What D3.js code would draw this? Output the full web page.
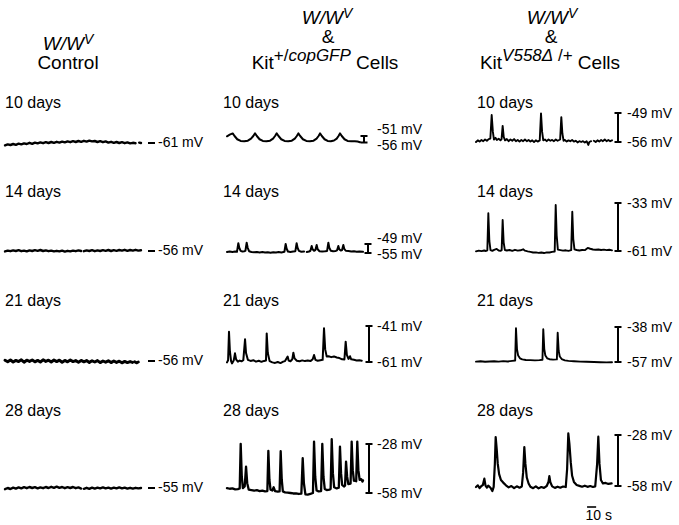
<!DOCTYPE html>
<html><head><meta charset="utf-8">
<script src="https://cdn.jsdelivr.net/npm/d3@7"></script>
<style>
body{margin:0;background:#fff}
svg text{font-family:"Liberation Sans",Arial,Helvetica,sans-serif;fill:#000}
</style>
</head><body>
<svg id="chart" width="679" height="525"></svg>
<script>
// ---------------- DATA (time in s, potential in mV) ----------------
const dayLabels = ["10 days", "14 days", "21 days", "28 days"];
const controlLevels = [-61, -56, -56, -55];
const copGFPBars = [[-56, -51], [-55, -49], [-61, -41], [-58, -28]];
const v558Bars = [[-56, -49], [-61, -33], [-57, -38], [-58, -28]];
const timeBar = [122.5, 132.5];   // 10 s calibration bar
const timeBarLabel = "10 s";

// W/W^V control
const ctrl10 = [[0,-62.2],[3,-61.7],[6,-62.0],[9,-61.5],[12,-61.9],[15,-61.3],[18,-61.7],[21,-61.2],[24,-61.5],[27,-60.9],[30,-61.4],[33,-60.8],[36,-61.2],[39,-60.7],[42,-61.1],[45,-60.6],[48,-61.0],[51,-60.5],[54,-60.9],[57,-60.4],[60,-60.8],[63,-60.3],[66,-60.7],[69,-60.2],[72,-60.6],[75,-60.1],[78,-60.5],[81,-60.0],[84,-60.4],[87,-59.9],[90,-60.3],[93,-59.8],[96,-60.2],[99,-60.0],[102,-60.5],[105,-60.1],[108,-60.6],[111,-60.2],[114,-60.8],[117,-60.4],[120,-60.9],[123,-60.5],[126,-61.0],[129,-60.6],[132,-61.1],[135,-60.7],[138,-61.2],[141,-60.9],[144,-61.1],[146,null],[148,-60.8],[150,-61.0]];
const ctrl14 = [[0,-56.2],[3,-55.8],[6,-56.1],[9,-55.7],[12,-56.0],[15,-55.6],[18,-56.1],[21,-55.8],[24,-56.2],[27,-55.7],[30,-56.0],[33,-55.6],[36,-55.9],[39,-55.5],[42,-56.0],[45,-55.7],[48,-56.1],[51,-55.8],[54,-56.2],[57,-55.9],[60,-56.2],[63,-55.8],[66,-56.3],[69,-55.9],[72,-56.2],[75,-55.8],[78,-56.1],[81,-55.7],[84,-56.0],[85.5,null],[87,-56.1],[90,-55.7],[93,-56.0],[96,-55.6],[99,-56.1],[102,-55.7],[105,-56.0],[108,-55.6],[111,-55.9],[114,-55.5],[117,-56.0],[120,-55.6],[123,-55.9],[126,-55.5],[129,-55.8],[132,-55.4],[135,-55.9],[138,-55.5],[141,-55.8],[144,-55.4],[147,-55.8],[150,-55.6]];
const ctrl21 = [[0,-55.6],[3,-56.4],[6,-55.5],[9,-56.5],[12,-55.7],[15,-56.3],[18,-55.4],[21,-56.6],[24,-55.6],[27,-56.2],[30,-55.5],[33,-56.4],[36,-55.7],[39,-56.5],[42,-55.4],[45,-56.2],[48,-55.6],[51,-56.5],[54,-55.5],[57,-56.3],[60,-55.6],[63,-56.6],[66,-55.7],[69,-56.4],[72,-55.5],[75,-56.3],[78,-55.8],[81,-56.6],[84,-55.7],[87,-56.4],[90,-55.8],[93,-56.7],[96,-55.9],[99,-56.5],[102,-55.8],[105,-56.8],[108,-56.0],[111,-56.6],[114,-55.9],[117,-56.8],[120,-56.0],[123,-56.7],[126,-56.1],[129,-56.9],[132,-56.2],[135,-56.8],[138,-56.3],[140.5,-56.7],[141.5,null],[143,-56.4],[145,-56.9],[147,-56.5]];
const ctrl28 = [[0,-55.6],[3,-55.0],[6,-55.5],[9,-54.8],[12,-55.3],[15,-54.7],[18,-55.2],[21,-54.6],[24,-55.1],[27,-54.5],[30,-55.0],[33,-54.6],[36,-55.2],[39,-54.7],[42,-55.1],[45,-54.5],[48,-55.0],[51,-54.4],[54,-54.9],[57,-54.3],[60,-54.9],[63,-54.5],[66,-55.1],[69,-54.6],[72,-55.0],[75,-54.5],[78,-55.1],[81,-54.7],[84,-55.3],[85.5,null],[87,-55.4],[90,-54.9],[93,-55.4],[96,-54.8],[99,-55.3],[102,-54.8],[105,-55.2],[108,-54.7],[111,-55.2],[114,-54.8],[117,-55.3],[120,-54.8],[123,-55.2],[126,-54.7],[129,-55.2],[132,-54.8],[135,-55.3],[138,-54.9],[141,-55.3],[144,-54.9],[147,-55.2],[150,-55.0]];

// W/W^V & Kit+/copGFP cells
const gfp10 = [[0,-51.2],[3,-50.0],[6.3,-49.0],[8.3,-51.0],[11.3,-53.5],[15,-54.8],[19,-55.1],[23,-54.6],[26.5,-53.0],[29,-51.0],[30.9,-49.0],[32.9,-51.0],[35.9,-53.5],[39.5,-54.8],[43.5,-55.1],[47.5,-54.6],[50.8,-53.0],[53,-51.0],[54.8,-49.0],[56.8,-51.0],[59.8,-53.5],[63.5,-54.8],[67.5,-55.1],[71.5,-54.6],[74.8,-53.0],[77,-51.0],[78.7,-49.0],[80.7,-51.0],[83.7,-53.5],[87.5,-54.8],[91.5,-55.1],[95.5,-54.6],[98.8,-53.0],[101,-51.0],[102.6,-49.0],[104.6,-51.0],[107.6,-53.5],[111,-54.8],[114.5,-55.1],[118,-54.5],[121,-53.0],[123,-51.0],[124.6,-49.0],[126.6,-51.0],[129.6,-53.5],[133,-54.8],[137,-55.1],[141,-55.0],[144,-55.3],[146.7,-55.8]];
const gfp14 = [[0,-54.4],[3,-54.0],[6,-54.3],[9,-54.0],[11,-54.2],[12.5,-48.5],[13.5,-51.5],[15,-53.6],[17,-54.0],[19,-53.8],[20.3,-53.6],[21.7,-48.1],[22.8,-51.5],[24.3,-53.8],[27,-54.3],[30,-54.5],[33,-54.3],[36,-54.6],[39,-54.4],[42,-54.7],[45,-54.5],[48,-54.8],[51,-54.5],[54,-54.7],[57,-54.4],[60,-54.6],[63.3,-54.2],[64.7,-49.0],[65.7,-52.0],[67.2,-54.0],[70,-54.3],[73,-54.0],[75.4,-53.8],[76.8,-48.5],[77.8,-51.5],[79.3,-53.6],[82,-54.2],[85,-54.0],[86.5,null],[88,-54.3],[90.5,-54.0],[92,-53.5],[93.4,-50.3],[94.4,-52.5],[96,-53.5],[97.5,-53.0],[98.9,-49.7],[100,-52.5],[102,-53.8],[105,-54.0],[108,-53.9],[110.4,-53.6],[111.8,-48.1],[112.8,-51.5],[114.5,-53.5],[117,-53.8],[120,-53.6],[121.4,-53.2],[122.8,-50.3],[123.8,-52.5],[125.5,-53.4],[126.9,-53.0],[128.3,-49.7],[129.3,-52.2],[131,-53.5],[134,-53.7],[137,-54.0],[140,-53.8],[143,-54.2],[146,-54.0],[150,-54.2]];
const gfp21 = [[0,-61.2],[1.2,-60.0],[2.2,-44.2],[3.2,-55.0],[4.5,-60.5],[5.5,-61.8],[7.5,-60.0],[8.8,-56.2],[10,-59.5],[12,-60.8],[14,-60.2],[16,-60.6],[18,-60.0],[19.9,-48.4],[21,-56.0],[23,-59.8],[26,-60.4],[29,-60.0],[32,-60.8],[35,-60.3],[38,-60.9],[41,-60.4],[43,-60.2],[43.8,-45.1],[45,-56.0],[47,-60.5],[50,-61.2],[53,-61.5],[56,-61.0],[59,-61.6],[62,-60.8],[64,-60.5],[66.9,-58.0],[68,-60.2],[70,-60.6],[72,-59.5],[73.2,-55.8],[74.5,-59.0],[77,-60.3],[80,-60.6],[83,-60.1],[86,-60.5],[89,-60.2],[92,-60.5],[94.5,-59.5],[96,-57.1],[97.5,-59.8],[100,-60.3],[103,-60.0],[105.5,-59.8],[107,-42.3],[108.3,-54.0],[110,-58.0],[112,-57.8],[115,-58.3],[118,-57.9],[121,-58.5],[124,-58.8],[127,-59.5],[129.5,-59.6],[130.9,-49.7],[132.2,-57.0],[134,-59.3],[135.7,-57.8],[137,-59.5],[140,-59.8],[143,-60.2],[146,-60.0],[148.6,-60.3]];
const gfp28 = [[0,-55.0],[3,-55.4],[6,-55.2],[9,-55.8],[12,-55.6],[14,-55.2],[15.1,-27.9],[16.3,-48.0],[17.5,-55.0],[19.5,-54.0],[21,-41.9],[22.3,-52.0],[24,-56.0],[27,-56.2],[30,-56.5],[33,-56.3],[36,-56.8],[39,-56.6],[42,-57.0],[44.5,-56.8],[45.6,-32.2],[46.8,-50.0],[48,-56.0],[50,-56.5],[51.5,-54.5],[53,-56.8],[56,-57.2],[58,-57.0],[59.2,-32.4],[60.4,-50.0],[61.6,-57.0],[64,-57.6],[67,-57.8],[70,-58.0],[73,-58.3],[76,-58.2],[79,-58.6],[82,-58.4],[83.5,-36.7],[84.8,-52.0],[86.5,-58.8],[89,-59.0],[92,-58.5],[94.8,-58.0],[96,-26.5],[97.3,-48.0],[98.8,-56.5],[101,-57.0],[103.8,-56.8],[105.1,-27.9],[106.4,-48.0],[107.8,-55.5],[110,-56.2],[113,-56.0],[114.3,-55.5],[115.5,-25.1],[116.8,-46.0],[118.2,-54.5],[121,-55.2],[123.3,-54.8],[124.6,-29.6],[125.8,-46.0],[127,-53.0],[129,-54.0],[130.2,-53.5],[131.3,-38.8],[132.5,-48.0],[133.8,-52.5],[136.3,-52.2],[137.5,-26.5],[138.7,-44.0],[140,-50.5],[142.5,-50.8],[143.7,-26.5],[144.9,-44.0],[146.3,-50.0],[148,-49.5],[149.5,-51.0],[150,-50.3]];

// W/W^V & KitV558Δ/+ cells
const v10 = [[0,-56.0],[2,-55.6],[4,-55.9],[6,-55.5],[8,-55.8],[10,-55.4],[12,-55.7],[14,-55.3],[15.8,-55.2],[17.3,-49.5],[18.6,-53.5],[19.8,-55.4],[21.5,-55.0],[23,-55.5],[25,-55.2],[27,-55.6],[28.2,-55.3],[29.4,-52.1],[30.6,-54.8],[32,-55.6],[34,-55.3],[36,-55.8],[38,-55.4],[40,-55.7],[42,-55.3],[44,-55.8],[46,-55.5],[48,-55.9],[50,-55.5],[52,-55.8],[54,-55.4],[56,-55.8],[58,-55.5],[60,-55.9],[62,-55.6],[64,-56.0],[66,-55.6],[68,-55.9],[70.3,-55.6],[71.7,-49.1],[72.9,-53.5],[74.2,-55.6],[76,-55.4],[78,-55.8],[80,-55.4],[82,-55.7],[84,-55.5],[86,-55.8],[88,-55.4],[90,-55.7],[92.8,-55.4],[94.1,-50.0],[95.3,-54.0],[96.6,-55.7],[98,-55.5],[100,-55.9],[102,-55.6],[104,-55.8],[106,-55.5],[108,-55.9],[110,-55.7],[112,-56.1],[114,-55.8],[116,-56.0],[118,-55.8],[120,-56.1],[122,-55.8],[123.9,-56.7],[125,-56.0],[127,-55.8],[128.5,null],[130,-55.7],[132,-56.0],[134,-55.6],[136,-55.9],[138,-55.5],[140,-55.8],[142,-55.4],[144,-55.8],[146,-55.5],[148,-55.8],[150,-55.6]];
const v14 = [[0,-61.2],[3,-60.8],[6,-61.1],[9,-60.7],[11,-61.0],[12.5,-60.6],[13.6,-39.0],[14.7,-55.0],[16,-60.5],[18,-60.9],[20,-60.3],[22.8,-59.8],[25,-60.7],[27,-60.9],[28.3,-60.5],[29.4,-42.9],[30.5,-56.0],[31.8,-60.4],[34,-60.7],[37,-60.4],[40,-60.9],[43,-60.3],[46,-60.8],[49,-60.6],[52,-60.0],[54,-60.8],[57,-61.2],[60,-61.5],[63,-61.9],[66,-61.8],[69,-62.1],[72,-61.9],[75,-62.2],[78,-61.8],[81,-61.9],[84,-61.5],[86.8,-61.3],[87.9,-34.2],[89,-52.0],[90.3,-60.2],[93,-60.5],[96,-60.8],[99,-60.6],[102,-60.9],[105,-60.5],[106.2,-38.1],[107.3,-54.0],[108.6,-60.0],[111,-60.4],[114,-60.7],[117,-60.4],[120,-60.5],[123.2,-59.2],[126,-59.7],[129,-60.1],[132,-60.3],[135,-60.1],[138,-60.4],[141,-60.2],[144,-60.5],[147,-60.3],[150,-60.6]];
const v21 = [[0,-56.8],[5,-56.6],[10,-56.9],[15,-56.7],[20,-56.6],[25,-56.8],[30,-56.5],[35,-56.7],[40,-56.4],[43.2,-56.2],[44.1,-38.7],[45.2,-50.0],[46.5,-53.5],[48.5,-55.0],[51,-55.6],[55,-55.9],[60,-56.0],[65,-56.1],[70,-56.0],[73.3,-55.8],[74.2,-39.2],[75.3,-50.0],[76.5,-53.5],[78.5,-55.0],[81,-55.5],[85,-55.7],[89.2,-55.6],[90.1,-41.1],[91.2,-51.0],[92.4,-54.0],[94.5,-55.4],[98,-56.1],[102,-56.4],[108,-56.6],[115,-56.8],[122,-56.9],[130,-57.0],[137,-57.1],[144,-57.2],[150,-57.1]];
const v28 = [[0,-58.6],[2,-57.6],[4,-59.2],[6,-58.0],[7.5,-57.5],[9.2,-53.7],[10.5,-57.8],[12,-58.9],[13.5,-57.8],[16,-59.0],[18,-61.0],[19.5,-58.5],[20.8,-45.0],[21.7,-29.2],[22.8,-36.0],[24,-45.0],[25.5,-51.0],[27.5,-54.5],[30,-56.0],[33,-57.6],[36,-58.8],[39,-58.0],[42,-59.3],[45,-58.2],[48,-59.0],[50.5,-58.3],[52,-50.0],[53.3,-35.1],[54.5,-45.0],[56,-53.0],[58,-56.5],[60,-58.4],[63,-59.3],[66,-58.2],[69,-59.4],[72,-58.6],[75,-59.1],[78,-58.0],[80,-55.5],[80.9,-52.2],[82,-55.8],[84,-58.2],[87,-59.1],[90,-58.4],[93,-59.0],[96,-58.3],[99,-58.6],[100.5,-48.0],[101.8,-27.1],[103,-33.0],[104.5,-44.0],[106,-52.0],[108,-55.6],[111,-57.4],[114,-57.9],[117,-58.4],[120,-57.8],[123,-58.5],[126,-58.0],[129,-58.6],[131.5,-58.2],[133.6,-45.0],[134.9,-29.0],[136.2,-45.0],[137.8,-54.5],[140,-56.5],[143,-56.2],[146,-56.8],[149.6,-56.5]];

const controlTraces = [ctrl10, ctrl14, ctrl21, ctrl28];
const copGFPTraces = [gfp10, gfp14, gfp21, gfp28];
const v558Traces = [v10, v14, v21, v28];

// ---------------- LAYOUT ----------------
const svg = d3.select("#chart");
const traceW = 136;
const colX = [5, 227, 476];
const dayLabelX = [5, 223, 477];
const dayLabelY = [108, 197, 306, 416];
const controlY = [143, 251, 361, 488];
const gfpBarPx = [[142.5, 136], [253, 244], [362, 326], [493, 444]];
const gfpBarX = [364, 368, 369, 369];
// label centre offsets [bottom, top] so stacked labels keep apart
const gfpLabelShift = [[2.5, -7], [1, -6], [0, 0], [0, 0]];
const vBarPx = [[142, 113], [251, 203], [362, 327], [486, 435]];
const vBarX = 618;

function xScale(col) {
  return d3.scaleLinear().domain([0, 150]).range([colX[col], colX[col] + traceW]);
}
function drawTrace(data, x, y, w) {
  const line = d3.line().defined(d => d[1] !== null).x(d => x(d[0])).y(d => y(d[1]));
  svg.append("path").datum(data).attr("d", line)
    .attr("fill", "none").attr("stroke", "#000").attr("stroke-width", w)
    .attr("stroke-linejoin", "round").attr("stroke-linecap", "round");
}
function drawBar(x, y, lo, hi) {
  const g = svg.append("g").attr("stroke", "#000").attr("stroke-width", 2);
  g.append("line").attr("x1", x).attr("x2", x).attr("y1", y(hi)).attr("y2", y(lo));
  [lo, hi].forEach(v => g.append("line").attr("x1", x - 3.5).attr("x2", x + 3.5).attr("y1", y(v)).attr("y2", y(v)));
}
function mvLabel(x, yc, txt) {
  svg.append("text").attr("x", x).attr("y", yc + 5).attr("font-size", 14).text(txt);
}

// Headers
function addHeaderLine(x, y, parts) {
  const t = svg.append("text").attr("x", x).attr("y", y).attr("text-anchor", "middle").attr("font-size", 19);
  parts.forEach(p => {
    const s = t.append("tspan").text(p.t);
    if (p.i) s.attr("font-style", "italic");
    if (p.fs) s.attr("font-size", p.fs);
    if (p.dy) s.attr("dy", p.dy);
  });
}
const wwv = [{t: "W/W", i: true}, {t: "V", i: true, fs: 14, dy: -6}];
addHeaderLine(68, 50, wwv);
addHeaderLine(68, 69, [{t: "Control"}]);
addHeaderLine(327, 24, wwv);
addHeaderLine(328, 43, [{t: "&"}]);
addHeaderLine(325, 69, [{t: "Kit"}, {t: "+/", fs: 17, dy: -8}, {t: "copGFP", i: true, fs: 17}, {t: " Cells", dy: 8}]);
addHeaderLine(552, 24, wwv);
addHeaderLine(551, 43, [{t: "&"}]);
addHeaderLine(550, 69, [{t: "Kit"}, {t: "V558Δ", i: true, fs: 17, dy: -8}, {t: " /+", fs: 17}, {t: " Cells", dy: 8}]);

// Day labels
dayLabels.forEach((d, r) => {
  dayLabelX.forEach(x => svg.append("text").attr("x", x).attr("y", dayLabelY[r]).attr("font-size", 16).text(d));
});

// Column 1: control
controlTraces.forEach((tr, r) => {
  const lv = controlLevels[r];
  const x = xScale(0);
  const y = d3.scaleLinear().domain([lv - 5, lv + 5]).range([controlY[r] + 10, controlY[r] - 10]);
  drawTrace(tr, x, y, r === 2 ? 3 : 2.4);
  svg.append("line").attr("x1", 148).attr("x2", 155).attr("y1", y(lv)).attr("y2", y(lv))
    .attr("stroke", "#000").attr("stroke-width", 2);
  mvLabel(158, y(lv) - 1.5, lv + " mV");
});

// Column 2: Kit+/copGFP
copGFPTraces.forEach((tr, r) => {
  const [lo, hi] = copGFPBars[r];
  const x = xScale(1);
  const y = d3.scaleLinear().domain([lo, hi]).range(gfpBarPx[r]);
  drawTrace(tr, x, y, r === 3 ? 2.3 : 2);
  drawBar(gfpBarX[r], y, lo, hi);
  mvLabel(377, y(hi) + gfpLabelShift[r][1], hi + " mV");
  mvLabel(377, y(lo) + gfpLabelShift[r][0], lo + " mV");
});

// Column 3: KitV558Δ/+
v558Traces.forEach((tr, r) => {
  const [lo, hi] = v558Bars[r];
  const x = xScale(2);
  const y = d3.scaleLinear().domain([lo, hi]).range(vBarPx[r]);
  drawTrace(tr, x, y, r === 3 ? 2.2 : 1.9);
  drawBar(vBarX, y, lo, hi);
  mvLabel(627, y(hi), hi + " mV");
  mvLabel(627, y(lo), lo + " mV");
});

// Time calibration bar (uses the bottom-right panel's time scale)
const xt = xScale(2);
svg.append("line").attr("x1", xt(timeBar[0])).attr("x2", xt(timeBar[1])).attr("y1", 507).attr("y2", 507)
  .attr("stroke", "#000").attr("stroke-width", 1.6);
svg.append("text").attr("x", xt(timeBar[0]) - 1.5).attr("y", 520).attr("font-size", 14).text(timeBarLabel);
</script>
</body></html>
